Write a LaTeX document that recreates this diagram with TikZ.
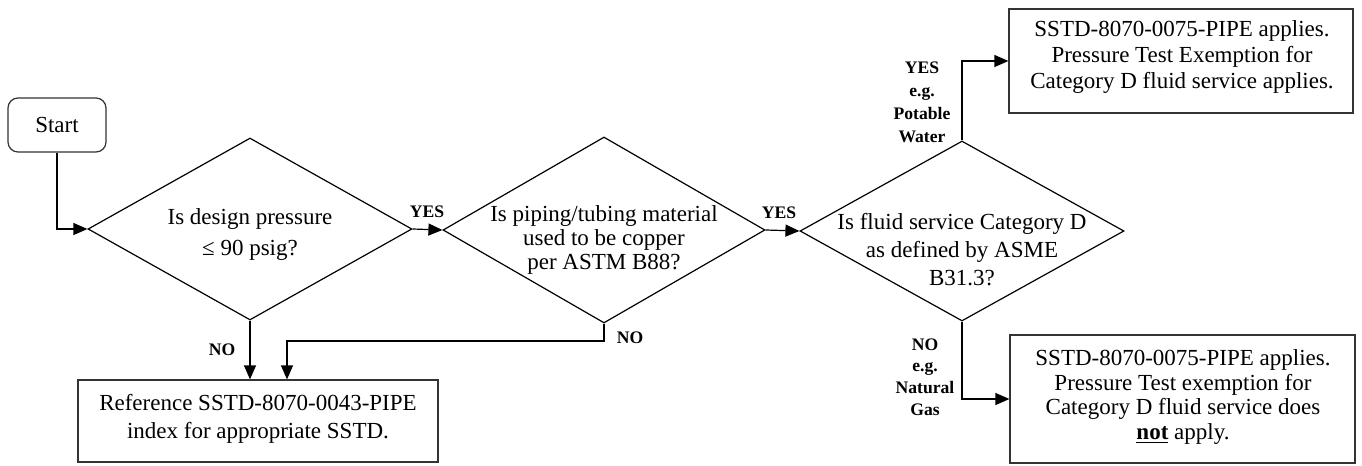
\documentclass[tikz,border=0pt]{standalone}
\usepackage{fontspec}
\setmainfont{Liberation Serif}
\usetikzlibrary{shapes.geometric,arrows.meta}
\tikzset{
  conn/.style={draw=black, line width=0.6pt},
  arr/.style={conn, -{Triangle[length=7pt,width=6pt]}},
  boxnode/.style={draw=black!80, line width=0.6pt, rectangle, inner sep=0pt},
  dia/.style={draw=black, line width=0.6pt, diamond, inner sep=0pt},
  txt/.style={align=center, inner sep=0pt},
  lbl/.style={font=\fontsize{8.8}{11.5}\selectfont\bfseries, align=center, inner sep=0pt}
}
\begin{document}
\begin{tikzpicture}[x=0.5pt,y=-0.5pt]
\useasboundingbox (0,0) rectangle (1362,466);
% nodes
\node[boxnode, rounded corners=5pt, minimum width=49pt, minimum height=27pt, font=\fontsize{11.5}{13}\selectfont] (start) at (57,125) {Start};
\node[dia, minimum width=162pt, minimum height=91pt] (d1) at (250,229) {};
\node[txt, font=\fontsize{11.5}{15.5}\selectfont] (t1) at (250,235) {Is design pressure\\≤ 90 psig?};
\node[dia, minimum width=161pt, minimum height=93pt] (d2) at (604,230) {};
\node[txt, font=\fontsize{11.5}{12}\selectfont] (t2) at (604,240) {Is piping/tubing material\\used to be copper\\per ASTM B88?};
\node[dia, minimum width=162pt, minimum height=90pt] (d3) at (962,231) {};
\node[txt, font=\fontsize{11.5}{14}\selectfont] (t3) at (962,250) {Is fluid service Category D\\as defined by ASME\\B31.3?};
\node[boxnode, minimum width=172pt, minimum height=52pt] (yesbox) at (1181,61) {};
\node[txt, font=\fontsize{11.5}{12.8}\selectfont] (tyes) at (1182,57) {SSTD-8070-0075-PIPE applies.\\Pressure Test Exemption for\\Category D fluid service applies.};
\node[boxnode, minimum width=172.5pt, minimum height=64pt] (nobox) at (1182.5,399) {};
\node[txt, font=\fontsize{11.5}{12.3}\selectfont] (tno) at (1183,397) {SSTD-8070-0075-PIPE applies.\\Pressure Test exemption for\\Category D fluid service does\\\underline{\textbf{not}} apply.};
\node[boxnode, minimum width=180pt, minimum height=41pt] (ref) at (258,421) {};
\node[txt, font=\fontsize{11.5}{14}\selectfont] (tref) at (258,419) {Reference SSTD-8070-0043-PIPE\\index for appropriate SSTD.};
% connectors
\draw[arr] (start.south) |- (d1.west);
\draw[arr] (d1.east) -- (d2.west);
\draw[arr] (d2.east) -- (d3.west);
\draw[arr] (d3.north) |- (yesbox.west);
\draw[arr] (d3.south) |- (nobox.west);
\draw[arr] (d1.south) -- (d1.south |- ref.north);
\coordinate (j) at (287,341);
\draw[arr] (d2.south) |- (j) -- (j |- ref.north);
% labels
\node[lbl] (l1) at (427,212) {YES};
\node[lbl] (l2) at (779,213) {YES};
\node[lbl] (l3) at (922,102) {YES\\e.g.\\Potable\\Water};
\node[lbl, font=\fontsize{8.8}{10.9}\selectfont\bfseries] (l4) at (925,377) {NO\\e.g.\\Natural\\Gas};
\node[lbl] (l5) at (222,350) {NO};
\node[lbl] (l6) at (630,338) {NO};
\end{tikzpicture}
\end{document}
